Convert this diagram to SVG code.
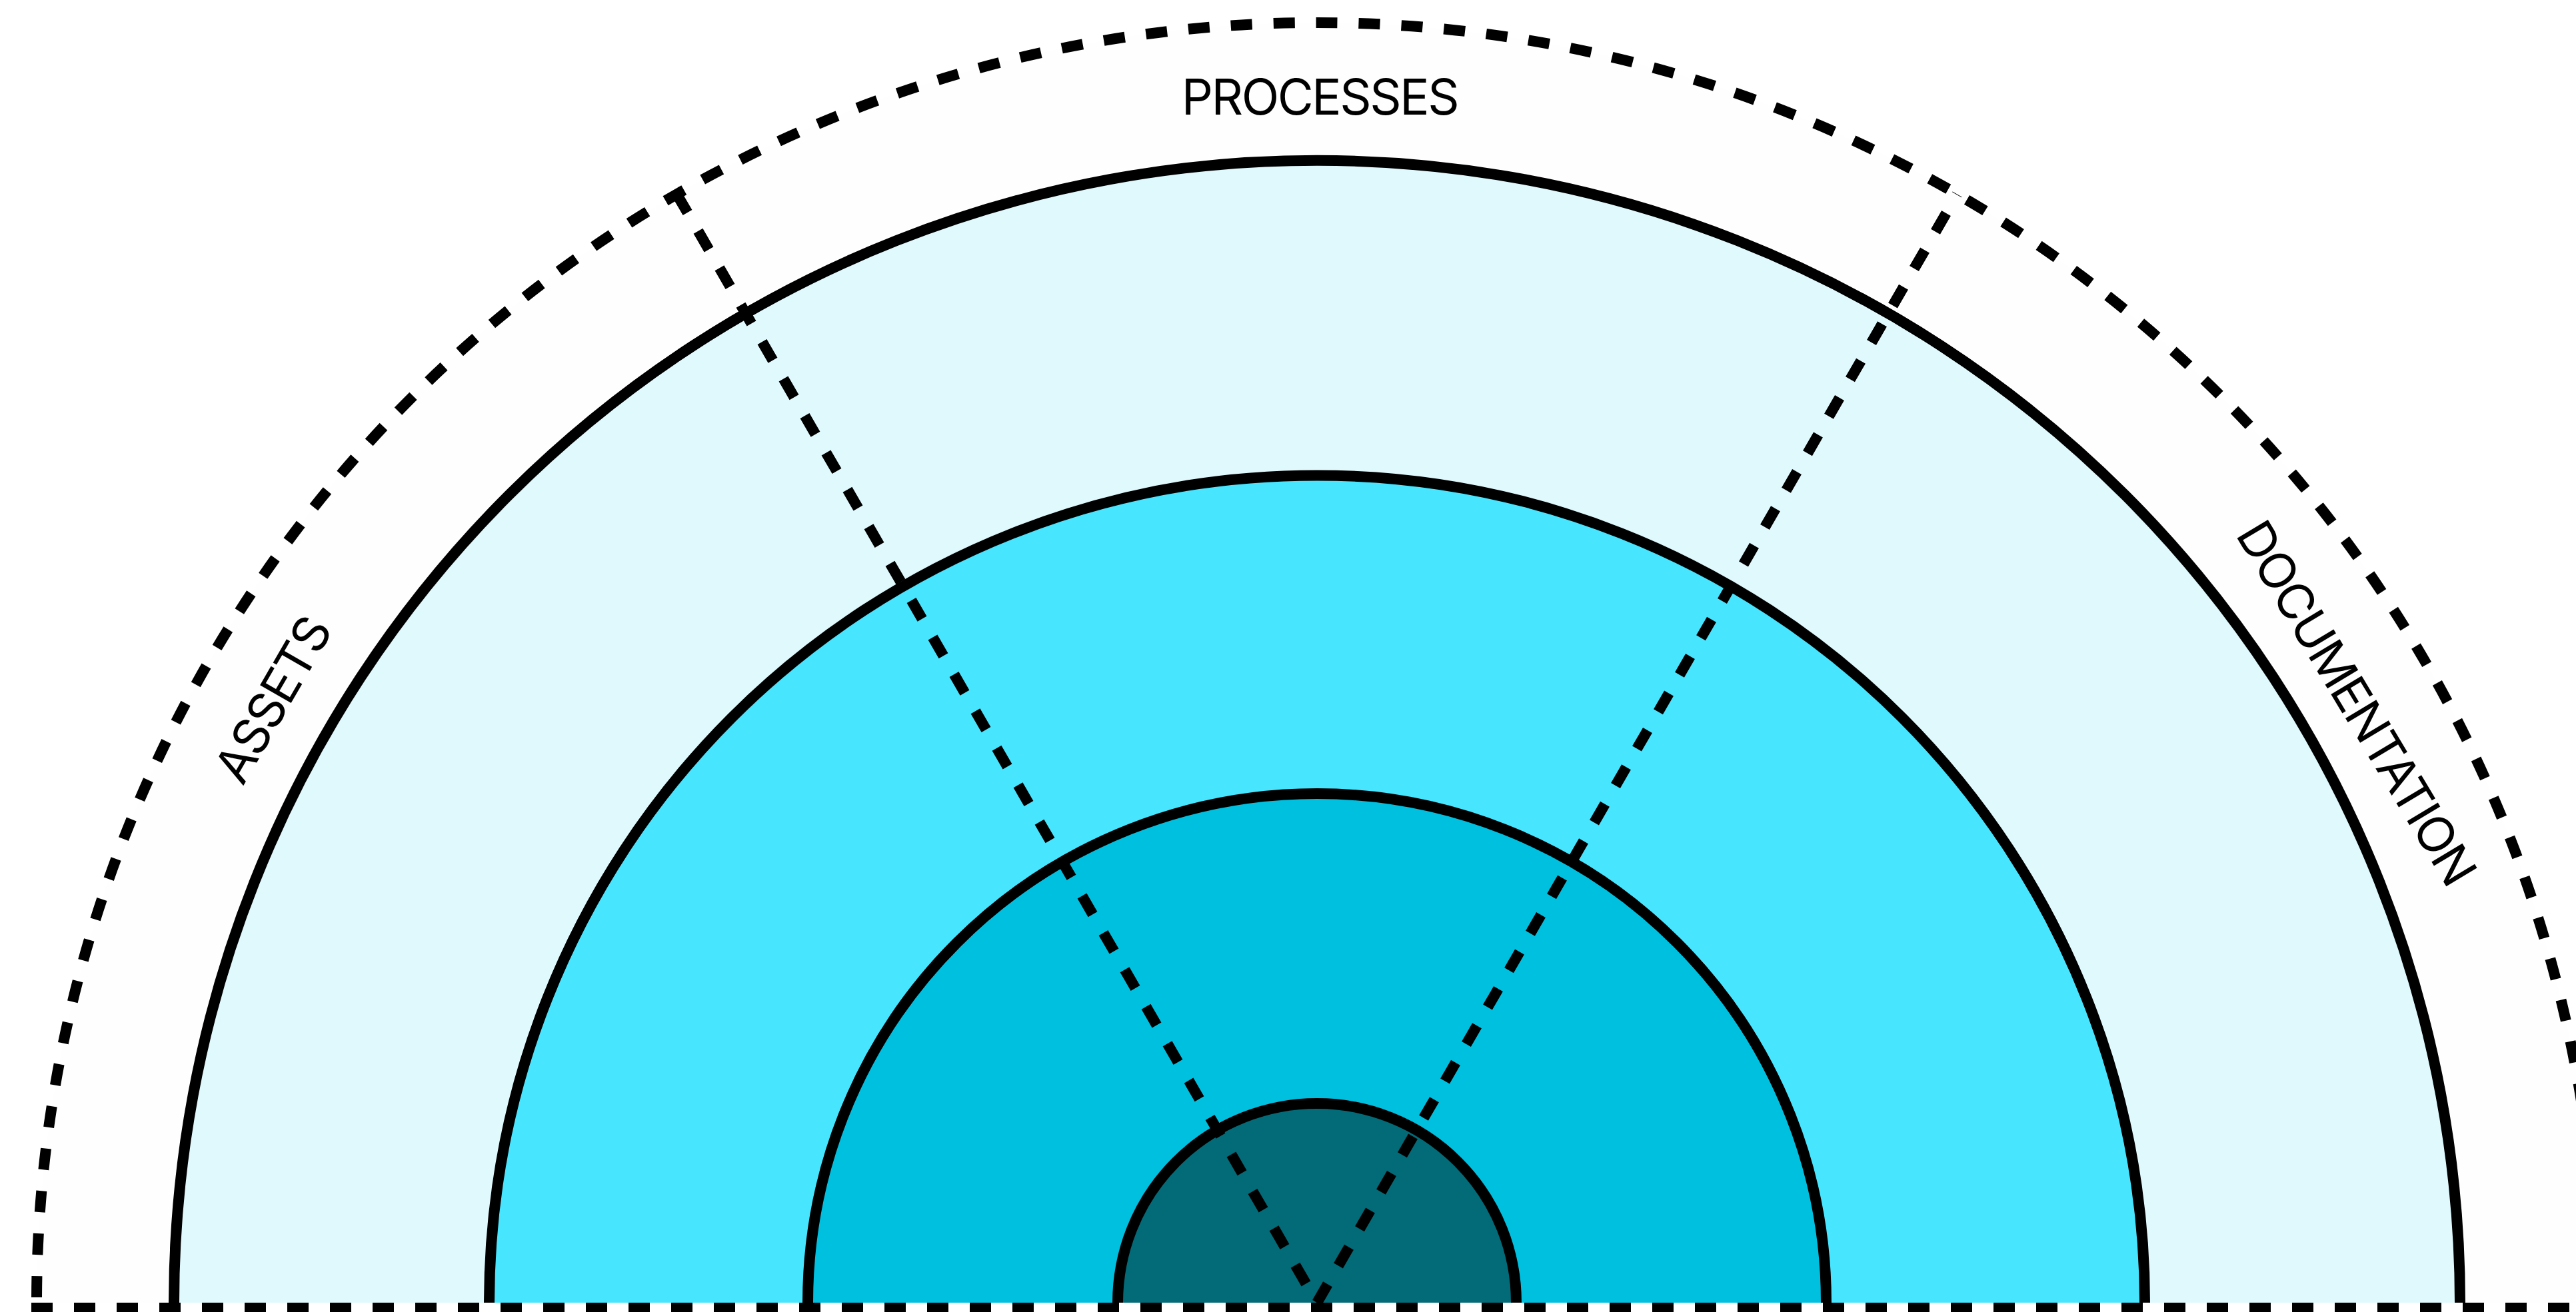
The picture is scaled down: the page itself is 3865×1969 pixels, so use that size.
<svg xmlns="http://www.w3.org/2000/svg" width="3865" height="1969" viewBox="0 0 3865 1969">
  <style>
    .arc { fill: none; stroke: #000; stroke-width: 16; }
    .dash { fill: none; stroke: #000; stroke-width: 16; stroke-dasharray: 32 32; }
    .label { font-family: Inter, "Liberation Sans", sans-serif; font-size: 74px; font-weight: 400; letter-spacing: -2.5px; fill: #000; text-anchor: middle; }
  </style>
  <rect x="0" y="0" width="3865" height="1969" fill="#FFFFFF"/>
  <g id="outer-band">
    <path d="M 55 1955 A 1921 1921 0 0 1 3897 1955 Z" fill="#FEFEFE"/>
    <path class="dash" d="M 55 1955 A 1921 1921 0 0 1 3897 1955" stroke-dashoffset="56"/>
  </g>
  <g id="ring-1">
    <path d="M 261 1955 A 1715 1715 0 0 1 3691 1955 Z" fill="#DFF9FD"/>
    <path class="arc" d="M 261 1955 A 1715 1715 0 0 1 3691 1955"/>
  </g>
  <g id="ring-2">
    <path d="M 734 1955 A 1242 1242 0 0 1 3218 1955 Z" fill="#48E5FF"/>
    <path class="arc" d="M 734 1955 A 1242 1242 0 0 1 3218 1955"/>
  </g>
  <g id="ring-3">
    <path d="M 1212 1955 A 764 764 0 0 1 2740 1955 Z" fill="#00C0E0"/>
    <path class="arc" d="M 1212 1955 A 764 764 0 0 1 2740 1955"/>
  </g>
  <g id="core">
    <path d="M 1677 1955 A 299 299 0 0 1 2275 1955 Z" fill="#036A78"/>
    <path class="arc" d="M 1677 1955 A 299 299 0 0 1 2275 1955"/>
  </g>
  <g id="connectors">
    <line class="dash" x1="1015.5" y1="291.4" x2="1976" y2="1955"/>
    <line class="dash" x1="1976" y1="1955" x2="2936.5" y2="291.4"/>
    <line class="dash" x1="47" y1="1963" x2="3905" y2="1963"/>
  </g>
  <g id="labels">
    <text class="label" x="1980" y="172">PROCESSES</text>
    <text class="label" transform="translate(408.5 1050) rotate(-60)" x="0" y="27">ASSETS</text>
    <text class="label" transform="translate(3536 1054) rotate(59)" x="0" y="27">DOCUMENTATION</text>
  </g>
</svg>
